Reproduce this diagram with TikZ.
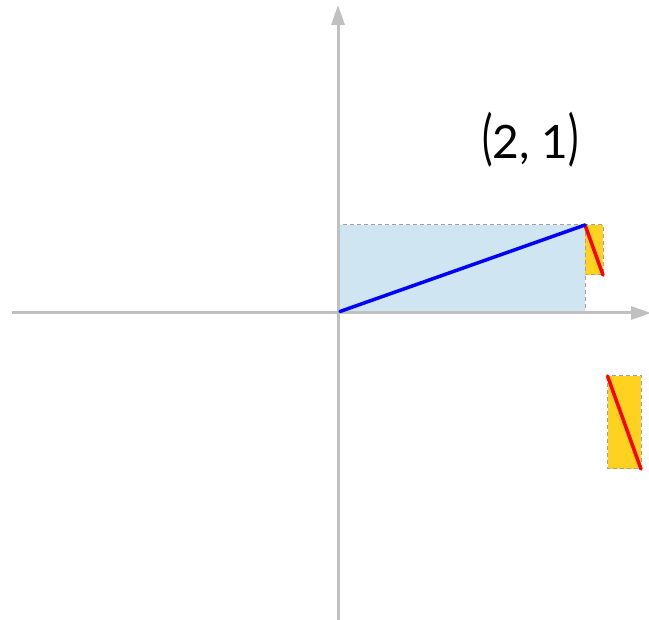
\documentclass[tikz,border=0pt]{standalone}
\usepackage{fontspec}
\setmainfont{Lato}
\usepackage{graphicx}
\usetikzlibrary{arrows.meta}
\definecolor{axisgray}{HTML}{C0C0C0}
\definecolor{boxblue}{HTML}{D0E5F2}
\definecolor{boxyellow}{HTML}{FFD21F}
\definecolor{edgegray}{HTML}{A0A0A0}
\tikzset{
  axis/.style={draw=axisgray, line width=3pt, -{Triangle[width=13pt,length=20pt]}},
  dashbox/.style={draw=edgegray, dashed, dash pattern=on 4pt off 3pt, line width=1pt},
  vec/.style={line width=3.5pt, line cap=round},
}
\begin{document}
\begin{tikzpicture}[x=1pt,y=-1pt]
\useasboundingbox (0,0) rectangle (649,620);
\coordinate (xl) at (12,313);
\coordinate (xr) at (651,313);
\coordinate (yb) at (338,620);
\coordinate (yt) at (338,5);
\coordinate (O) at (340,311.5);
\coordinate (Ob) at (339.5,313);
\coordinate (P) at (585,225);
\coordinate (Q) at (603,275);
\coordinate (R1) at (607.5,376);
\coordinate (R2) at (641,469);
% blue rectangle
\fill[boxblue] (Ob) rectangle (P);
\draw[dashbox] (Ob) |- (P) -- (P |- Ob);
% axes
\draw[axis] (xl) -- (xr);
\draw[axis] (yb) -- (yt);
% small yellow box
\filldraw[fill=boxyellow, dashbox] (P) rectangle (Q);
\draw[vec, red] (P) -- (Q);
% lower yellow box
\filldraw[fill=boxyellow, dashbox] (R1) rectangle (R2);
\draw[vec, red] (R1) -- (R2);
% vector
\draw[vec, blue] (O) -- (P);
\node[inner sep=0pt, font=\fontsize{46}{46}\selectfont] (lbl) at (530.5,140) {\scalebox{0.85}[1.3]{(}2, 1\scalebox{0.85}[1.3]{)}};
\end{tikzpicture}
\end{document}
